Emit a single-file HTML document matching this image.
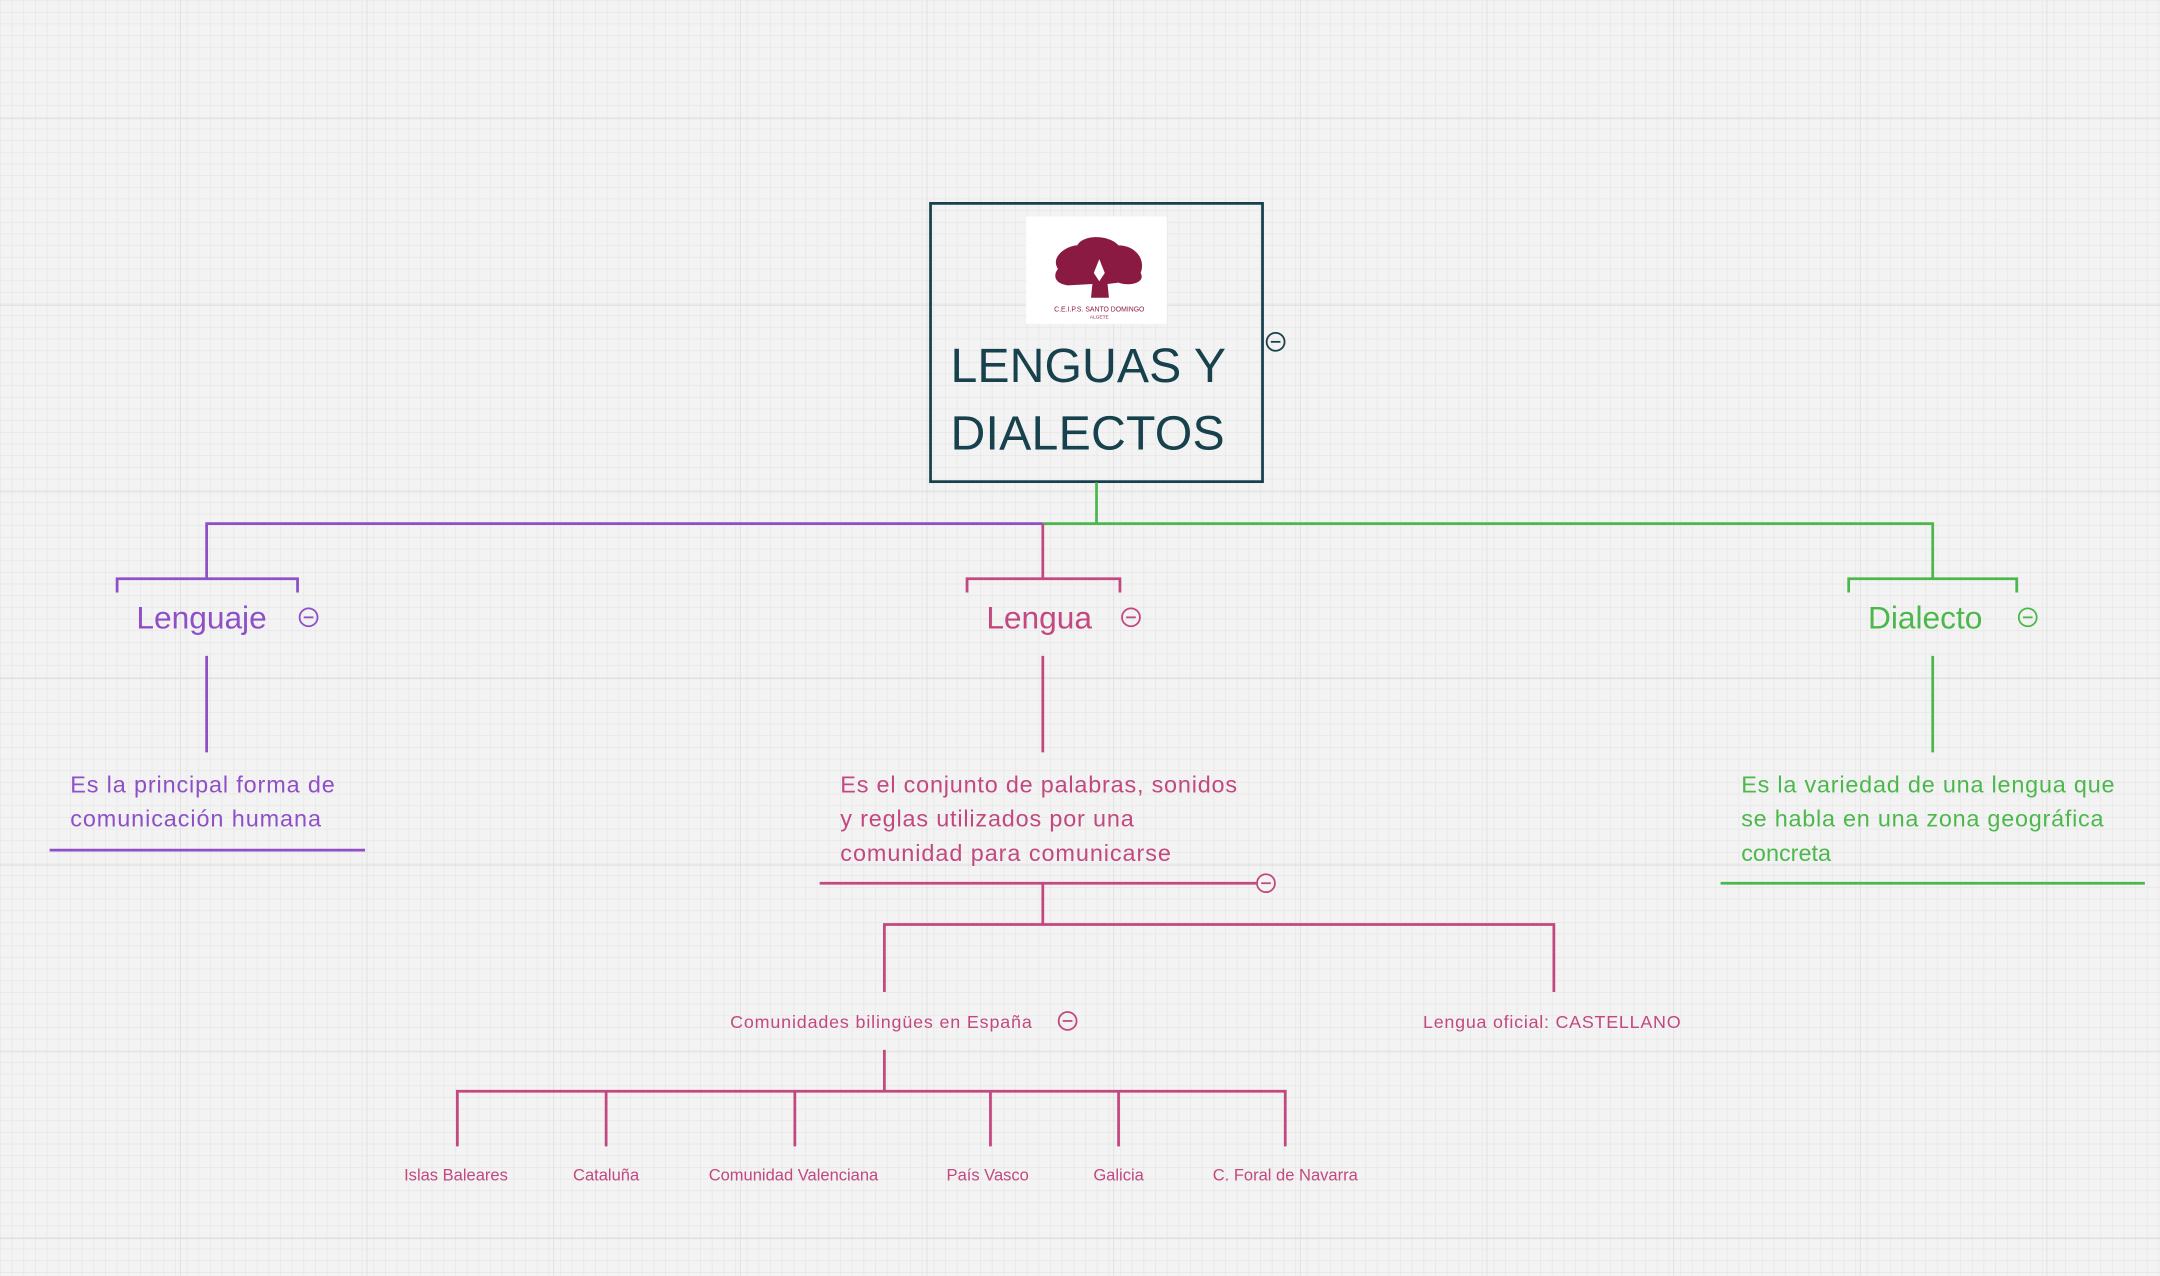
<!DOCTYPE html>
<html><head><meta charset="utf-8"><style>
html,body{margin:0;padding:0;width:2160px;height:1276px;overflow:hidden;background:#f2f2f2}
svg{display:block}
text{font-family:"Liberation Sans",sans-serif}
</style></head><body>
<svg width="2160" height="1276" viewBox="0 0 1568 926" xmlns="http://www.w3.org/2000/svg">
<defs>
<pattern id="g" width="8.47" height="8.47" patternUnits="userSpaceOnUse">
<rect width="8.47" height="8.47" fill="#f3f3f3"/>
<path d="M0 0H8.47M0 0V8.47" stroke="#e6e6e6" stroke-width="1"/>
</pattern>
<pattern id="G" x="130.6" y="85.6" width="135.5" height="135.5" patternUnits="userSpaceOnUse">
<path d="M0 0H135.5M0 0V135.5" stroke="#dddddd" stroke-width="1.2" fill="none"/>
</pattern>
</defs>
<rect width="1568" height="926" fill="url(#g)"/>
<rect width="1568" height="926" fill="url(#G)"/>

<rect x="675.5" y="147.5" width="241" height="202" fill="none" stroke="#17414d" stroke-width="2"/>
<rect x="745" y="157" width="102" height="78" fill="#fff"/>
<path d="M768 195 C762 186 775 178 782 178 C786 170 805 170 812 178 C824 178 832 188 828 198 C832 205 820 208 812 205 L804 206 L805 216 L792 216 L793 206 L775 207 C766 206 764 200 768 195 Z" fill="#8b1a42"/>
<path d="M798 188 L802 198 L798 204 L794 198 Z" fill="#fff"/>
<text x="798" y="226" font-size="5" fill="#8b1a42" text-anchor="middle" font-family="Liberation Serif">C.E.I.P.S. SANTO DOMINGO</text>
<text x="798" y="231" font-size="3.5" fill="#8b1a42" text-anchor="middle">ALGETE</text>
<text x="690" y="277" font-size="35" fill="#17414d" textLength="200">LENGUAS Y</text>
<text x="690" y="326" font-size="35" fill="#17414d" textLength="199">DIALECTOS</text>
<circle cx="926" cy="248" r="6.5" fill="none" stroke="#17414d" stroke-width="1.3"/><path d="M922.5 248h7" stroke="#17414d" stroke-width="1.3"/>

<path d="M796 350V380" stroke="#4cb84c" stroke-width="2"/>
<path d="M150 420V380H757" stroke="#8e4fc7" stroke-width="2" fill="none"/>
<path d="M757 380H1403V420" stroke="#4cb84c" stroke-width="2" fill="none"/>
<path d="M757 380V420" stroke="#c2487f" stroke-width="2"/>

<path d="M85 430V420H216V430" stroke="#8e4fc7" stroke-width="2" fill="none"/>
<text x="99" y="456" font-size="23" fill="#8e4fc7">Lenguaje</text>
<circle cx="224" cy="448" r="6.5" fill="none" stroke="#8e4fc7" stroke-width="1.3"/><path d="M220.5 448h7" stroke="#8e4fc7" stroke-width="1.3"/>
<path d="M150 476V546" stroke="#8e4fc7" stroke-width="2"/>
<text x="51" y="575" font-size="17" fill="#8e4fc7" textLength="192">Es la principal forma de</text>
<text x="51" y="600" font-size="17" fill="#8e4fc7" textLength="182">comunicación humana</text>
<path d="M36 617H265" stroke="#8e4fc7" stroke-width="2"/>

<path d="M702 430V420H813V430" stroke="#c2487f" stroke-width="2" fill="none"/>
<text x="716" y="456" font-size="23" fill="#c2487f">Lengua</text>
<circle cx="821" cy="448" r="6.5" fill="none" stroke="#c2487f" stroke-width="1.3"/><path d="M817.5 448h7" stroke="#c2487f" stroke-width="1.3"/>
<path d="M757 476V546" stroke="#c2487f" stroke-width="2"/>
<text x="610" y="575" font-size="17" fill="#c2487f" textLength="288">Es el conjunto de palabras, sonidos</text>
<text x="610" y="600" font-size="17" fill="#c2487f" textLength="213">y reglas utilizados por una</text>
<text x="610" y="625" font-size="17" fill="#c2487f" textLength="240">comunidad para comunicarse</text>
<path d="M595 641H912" stroke="#c2487f" stroke-width="2"/>
<circle cx="919" cy="641" r="6.5" fill="#f3f3f3" stroke="#c2487f" stroke-width="1.3"/><path d="M915.5 641h7" stroke="#c2487f" stroke-width="1.3"/>
<path d="M757 641V671M642 720V671H1128V720" stroke="#c2487f" stroke-width="2" fill="none"/>
<text x="530" y="746" font-size="13" fill="#c2487f" textLength="219">Comunidades bilingües en España</text>
<circle cx="775" cy="741" r="6.5" fill="none" stroke="#c2487f" stroke-width="1.3"/><path d="M771.5 741h7" stroke="#c2487f" stroke-width="1.3"/>
<text x="1033" y="746" font-size="13" fill="#c2487f" textLength="187">Lengua oficial: CASTELLANO</text>
<path d="M642 762V792M332 832V792H933V832M440 792V832M577 792V832M719 792V832M812 792V832" stroke="#c2487f" stroke-width="2" fill="none"/>
<g font-size="12" fill="#c2487f" text-anchor="middle">
<text x="331" y="857">Islas Baleares</text>
<text x="440" y="857">Cataluña</text>
<text x="576" y="857">Comunidad Valenciana</text>
<text x="717" y="857">País Vasco</text>
<text x="812" y="857">Galicia</text>
<text x="933" y="857">C. Foral de Navarra</text>
</g>

<path d="M1342 430V420H1464V430" stroke="#4cb84c" stroke-width="2" fill="none"/>
<text x="1356" y="456" font-size="23" fill="#4cb84c">Dialecto</text>
<circle cx="1472" cy="448" r="6.5" fill="none" stroke="#4cb84c" stroke-width="1.3"/><path d="M1468.5 448h7" stroke="#4cb84c" stroke-width="1.3"/>
<path d="M1403 476V546" stroke="#4cb84c" stroke-width="2"/>
<text x="1264" y="575" font-size="17" fill="#4cb84c" textLength="271">Es la variedad de una lengua que</text>
<text x="1264" y="600" font-size="17" fill="#4cb84c" textLength="263">se habla en una zona geográfica</text>
<text x="1264" y="625" font-size="17" fill="#4cb84c">concreta</text>
<path d="M1249 641H1557" stroke="#4cb84c" stroke-width="2"/>
</svg>
</body></html>
